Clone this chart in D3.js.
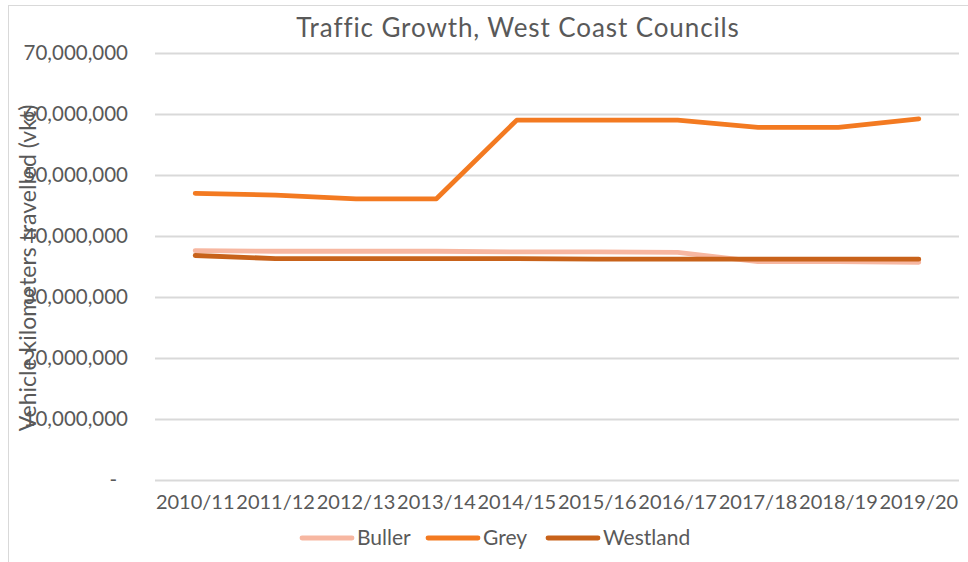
<!DOCTYPE html>
<html>
<head>
<meta charset="utf-8">
<script src="https://cdn.jsdelivr.net/npm/d3@7"></script>
<style>
  body { margin: 0; background: #fff; }
  text { font-family: Lato, "Open Sans", sans-serif; fill: #595959; }
</style>
</head>
<body>
<div id="chart"></div>
<script>
const width = 968;
const height = 562;

const years = ["2010/11", "2011/12", "2012/13", "2013/14", "2014/15",
  "2015/16", "2016/17", "2017/18", "2018/19", "2019/20"];
const buller = [37.6, 37.5, 37.5, 37.5, 37.4, 37.4, 37.3, 35.8, 35.8, 35.7].map(v => v * 1e6);
const grey = [47.0, 46.7, 46.1, 46.1, 59.0, 59.0, 59.0, 57.8, 57.8, 59.2].map(v => v * 1e6);
const westland = [36.8, 36.3, 36.3, 36.3, 36.3, 36.2, 36.2, 36.2, 36.2, 36.2].map(v => v * 1e6);
const yTicks = [0, 10e6, 20e6, 30e6, 40e6, 50e6, 60e6, 70e6];

const series = [
  { name: "Buller", values: buller, color: "#F7B7A1" },
  { name: "Grey", values: grey, color: "#F37A21" },
  { name: "Westland", values: westland, color: "#C8621A" }
];

const plot = { left: 155, right: 959, top: 53, bottom: 480 };

const svg = d3.select("#chart")
  .append("svg")
  .attr("width", width)
  .attr("height", height);

// chart frame
svg.append("rect")
  .attr("x", 8.5)
  .attr("y", 5.5)
  .attr("width", 970)
  .attr("height", 570)
  .attr("fill", "none")
  .attr("stroke", "#d9d9d9");

const x = d3.scaleBand()
  .domain(years)
  .range([plot.left, plot.right]);

const y = d3.scaleLinear()
  .domain([0, 70e6])
  .range([plot.bottom, plot.top]);

// gridlines
svg.append("g")
  .selectAll("line")
  .data(yTicks)
  .enter()
  .append("line")
  .attr("x1", plot.left)
  .attr("x2", plot.right)
  .attr("y1", d => Math.round(y(d)) + 0.5)
  .attr("y2", d => Math.round(y(d)) + 0.5)
  .attr("stroke", "#d9d9d9")
  .attr("stroke-width", 2);

// y axis labels
const yAxis = svg.append("g")
  .attr("transform", `translate(${128},0)`)
  .call(d3.axisLeft(y)
    .tickValues(yTicks)
    .tickSize(0)
    .tickPadding(0)
    .tickFormat(d => d === 0 ? "-" : d3.format(",")(d)));
yAxis.select(".domain").remove();
yAxis.selectAll("text")
  .style("font-size", "20.5px")
  .attr("fill", "#595959")
  .attr("dx", d => d === 0 ? -11 : 0);

// x axis labels
const xAxis = svg.append("g")
  .attr("transform", `translate(0,${plot.bottom})`)
  .call(d3.axisBottom(x).tickSize(0).tickPadding(15));
xAxis.select(".domain").remove();
xAxis.selectAll("text")
  .style("font-size", "20px")
  .attr("fill", "#595959");

// lines
const line = d3.line()
  .x((d, i) => x(years[i]) + x.bandwidth() / 2)
  .y(d => y(d));

svg.append("g")
  .selectAll(".series")
  .data(series)
  .enter()
  .append("path")
  .classed("series", true)
  .attr("d", d => line(d.values))
  .attr("fill", "none")
  .attr("stroke", d => d.color)
  .attr("stroke-width", 4.8)
  .attr("stroke-linecap", "round")
  .attr("stroke-linejoin", "round");

// title
svg.append("text")
  .attr("x", 518)
  .attr("y", 37)
  .attr("text-anchor", "middle")
  .style("font-size", "26px")
  .style("letter-spacing", "0.9px")
  .text("Traffic Growth, West Coast Councils");

// y axis title
svg.append("text")
  .attr("transform", `translate(36,268) rotate(-90)`)
  .attr("text-anchor", "middle")
  .style("font-size", "23px")
  .text("Vehicle kilometers travelled (vkt)");

// legend
const legendX = [300, 426, 546];
const legend = svg.append("g")
  .selectAll(".legend")
  .data(series)
  .enter()
  .append("g")
  .classed("legend", true)
  .attr("transform", (d, i) => `translate(${legendX[i]},538)`);

legend.append("line")
  .attr("x1", 2)
  .attr("x2", 52)
  .attr("stroke", d => d.color)
  .attr("stroke-width", 4.8)
  .attr("stroke-linecap", "round");

legend.append("text")
  .attr("x", 57)
  .attr("y", 7)
  .style("font-size", "21px")
  .text(d => d.name);
</script>
</body>
</html>
